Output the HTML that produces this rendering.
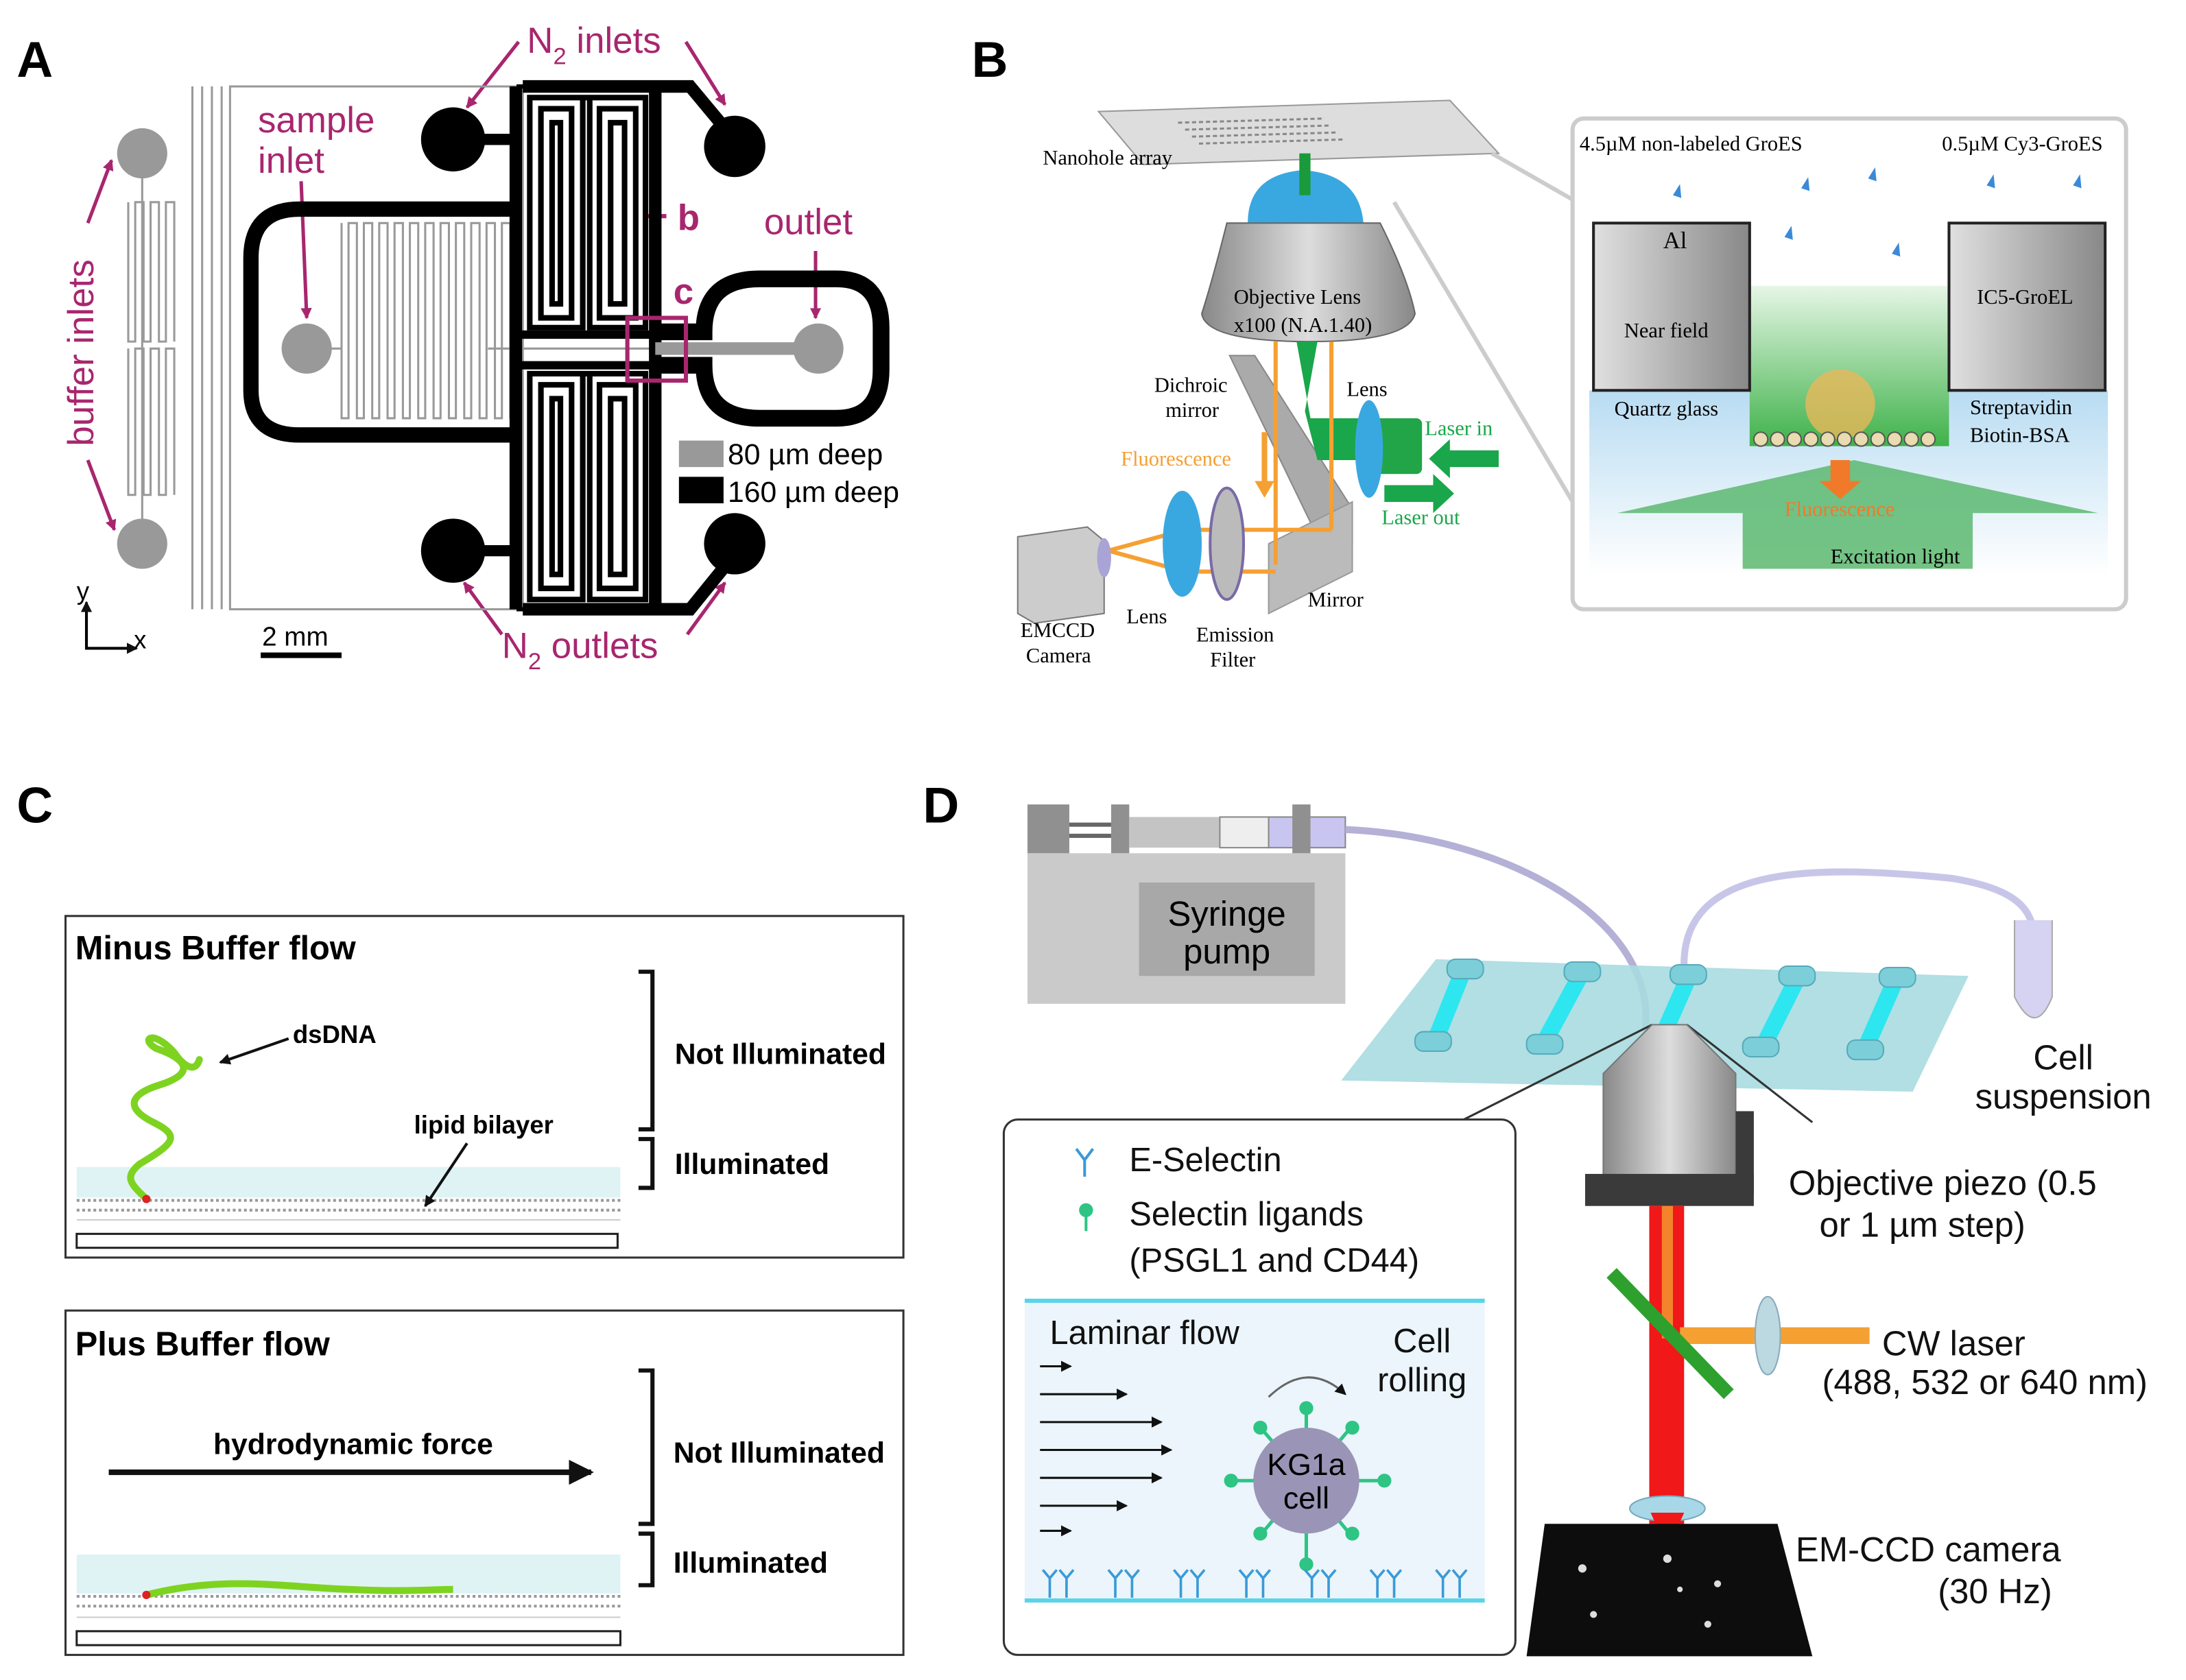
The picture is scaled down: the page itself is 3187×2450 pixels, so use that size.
<!DOCTYPE html>
<html><head><meta charset="utf-8"><style>
html,body{margin:0;padding:0;background:#fff;}
svg{display:block;}
text{font-family:"Liberation Sans",sans-serif;}
text.s,.s text{font-family:"Liberation Serif",serif;}
</style></head><body>
<svg width="3187" height="2450" viewBox="0 0 1568 1205" preserveAspectRatio="none" xmlns="http://www.w3.org/2000/svg">
<rect width="1568" height="1205" fill="#fff"/>
<defs>
<marker id="am" markerWidth="8" markerHeight="8" refX="7" refY="4" orient="auto" markerUnits="userSpaceOnUse"><path d="M0,0 L8,4 L0,8 Z" fill="#a8266f"/></marker>
<marker id="ab" markerWidth="8" markerHeight="8" refX="7" refY="4" orient="auto" markerUnits="userSpaceOnUse"><path d="M0,0 L8,4 L0,8 Z" fill="#111"/></marker>
<marker id="ab2" markerWidth="18" markerHeight="18" refX="16" refY="9" orient="auto" markerUnits="userSpaceOnUse"><path d="M0,0 L18,9 L0,18 Z" fill="#111"/></marker>
<linearGradient id="blue" x1="0" y1="0" x2="0" y2="1"><stop offset="0" stop-color="#b8dcf2"/><stop offset="1" stop-color="#fff"/></linearGradient>
<linearGradient id="grn" x1="0" y1="0" x2="0" y2="1"><stop offset="0" stop-color="#e6f6e6"/><stop offset="1" stop-color="#3fb24a"/></linearGradient>
<linearGradient id="alg" x1="0" y1="0" x2="1" y2="0"><stop offset="0" stop-color="#e0e0e0"/><stop offset="1" stop-color="#888"/></linearGradient>
<linearGradient id="obj" x1="0" y1="0" x2="1" y2="0"><stop offset="0" stop-color="#888"/><stop offset="0.5" stop-color="#ddd"/><stop offset="1" stop-color="#888"/></linearGradient>
</defs>

<!-- ========== PANEL A ========== -->
<text x="12" y="55" font-size="36" font-weight="bold">A</text>
<g fill="#a8266f" font-size="26">
<text x="378" y="38">N<tspan font-size="17" dy="8">2</tspan><tspan dy="-8"> inlets</tspan></text>
<text x="360" y="472">N<tspan font-size="17" dy="8">2</tspan><tspan dy="-8"> outlets</tspan></text>
<text x="185" y="95">sample</text><text x="185" y="124">inlet</text>
<text x="548" y="168">outlet</text>
<text x="486" y="165" font-weight="bold">b</text>
<text x="483" y="218" font-weight="bold">c</text>
<text transform="translate(67,320) rotate(-90)">buffer inlets</text>
</g>
<g stroke="#a8266f" stroke-width="2.5" fill="none" marker-end="url(#am)">
<line x1="372" y1="30" x2="335" y2="77"/><line x1="492" y1="30" x2="520" y2="75"/>
<line x1="360" y1="455" x2="333" y2="418"/><line x1="493" y1="455" x2="520" y2="418"/>
<line x1="63" y1="160" x2="80" y2="115"/><line x1="63" y1="330" x2="82" y2="380"/>
<line x1="216" y1="130" x2="220" y2="228"/><line x1="585" y1="180" x2="585" y2="228"/>
</g>
<line x1="462" y1="155" x2="478" y2="155" stroke="#a8266f" stroke-width="3"/>
<g stroke="#999" stroke-width="1.5" fill="none">
<rect x="165" y="62" width="210" height="375"/>
<line x1="138" y1="62" x2="138" y2="437"/><line x1="145" y1="62" x2="145" y2="437"/><line x1="152" y1="62" x2="152" y2="437"/><line x1="159" y1="62" x2="159" y2="437"/>
<path d="M92,145 v100 h5 v-100 h6 v100 h5 v-100 h6 v100 h5 v-100 h6 v100"/>
<path d="M92,250 v105 h5 v-105 h6 v105 h5 v-105 h6 v105 h5 v-105 h6 v105"/>
<line x1="102" y1="127" x2="102" y2="373"/>
<path d="M245,160 v140 h5 v-140 h6 v140 h5 v-140 h6 v140 h5 v-140 h6 v140 h5 v-140 h6 v140 h5 v-140 h6 v140 h5 v-140 h6 v140 h5 v-140 h6 v140 h5 v-140 h6 v140 h5 v-140 h6 v140 h5 v-140 h6 v140 h5 v-140 h6 v140"/>
<line x1="237" y1="250" x2="245" y2="250"/>
<line x1="350" y1="250" x2="470" y2="250"/>
</g>
<g stroke="#000" fill="none">
<path d="M368,150 H215 Q180,150 180,185 V280 Q180,312 215,312 H368" stroke-width="11"/>
<path d="M375,62 H495 L525,98" stroke-width="9"/>
<path d="M375,437 H495 L525,400" stroke-width="9"/>
<path d="M345,100 H370" stroke-width="8"/><path d="M345,395 H370" stroke-width="8"/>
<rect x="372" y="62" width="100" height="375" stroke-width="3"/>
<line x1="370" y1="62" x2="370" y2="437" stroke-width="9"/>
<line x1="470" y1="62" x2="470" y2="437" stroke-width="9"/>
<path d="M372,240 H470 M372,262 H470" stroke-width="6"/>
<path d="M380,70 v165 h38 v-165 h5 v165 h40 v-165 z" stroke-width="4"/>
<path d="M388,78 v150 h22 v-150 z M430,78 v150 h26 v-150 z" stroke-width="4"/>
<path d="M396,88 v130 h6 v-130 z M438,88 v130 h10 v-130 z" stroke-width="4"/>
<path d="M380,268 v162 h38 v-162 h5 v162 h40 v-162 z" stroke-width="4"/>
<path d="M388,276 v146 h22 v-146 z M430,276 v146 h26 v-146 z" stroke-width="4"/>
<path d="M396,286 v126 h6 v-126 z M438,286 v126 h10 v-126 z" stroke-width="4"/>
<path d="M470,238 H505 Q505,200 545,200 H600 Q632,200 632,235 V265 Q632,300 600,300 H545 Q505,300 505,262 H470" stroke-width="12"/>
</g>
<line x1="470" y1="250" x2="585" y2="250" stroke="#999" stroke-width="9"/>
<g fill="#000"><circle cx="325" cy="100" r="23"/><circle cx="527" cy="105" r="22"/><circle cx="325" cy="395" r="23"/><circle cx="527" cy="390" r="22"/></g>
<g fill="#999"><circle cx="102" cy="110" r="18"/><circle cx="102" cy="390" r="18"/><circle cx="220" cy="250" r="18"/><circle cx="587" cy="250" r="18"/></g>
<rect x="450" y="228" width="42" height="45" fill="none" stroke="#a8266f" stroke-width="3"/>
<rect x="487" y="316" width="32" height="19" fill="#999"/><rect x="487" y="342" width="32" height="19" fill="#000"/>
<text x="522" y="333" font-size="21">80 µm deep</text><text x="522" y="360" font-size="21">160 µm deep</text>
<g stroke="#000" stroke-width="2" fill="none"><path d="M62,440 V465 H98" marker-end="url(#ab)"/><line x1="62" y1="465" x2="62" y2="432" marker-end="url(#ab)"/></g>
<text x="55" y="430" font-size="18">y</text><text x="96" y="465" font-size="18">x</text>
<text x="188" y="463" font-size="19">2 mm</text><rect x="187" y="468" width="58" height="4" fill="#000"/>

<!-- ========== PANEL B ========== -->
<text x="697" y="55" font-size="36" font-weight="bold">B</text>
<polygon points="788,80 1040,72 1075,110 820,118" fill="#ddd" stroke="#999"/>
<g fill="none" stroke="#888" stroke-width="1.5" stroke-dasharray="3,2">
<line x1="845" y1="88" x2="950" y2="85"/><line x1="850" y1="93" x2="955" y2="90"/><line x1="855" y1="98" x2="960" y2="95"/><line x1="860" y1="103" x2="965" y2="100"/>
</g>
<line x1="1070" y1="110" x2="1140" y2="150" stroke="#ccc" stroke-width="3"/>
<line x1="1000" y1="145" x2="1140" y2="380" stroke="#ccc" stroke-width="3"/>
<path d="M895,160 Q895,125 935,122 Q975,125 978,160 Z" fill="#3aa8e0"/>
<path d="M880,160 H990 Q1010,200 1015,225 Q1010,245 940,245 Q865,245 862,225 Q870,200 880,160 Z" fill="url(#obj)" stroke="#666"/>
<rect x="932" y="110" width="8" height="30" fill="#1a9a3a"/>
<g class="s" font-size="15">
<text x="885" y="218">Objective Lens</text><text x="885" y="238">x100 (N.A.1.40)</text>
<text x="748" y="118">Nanohole array</text>
</g>
<polygon points="882,255 900,255 970,365 970,390 945,385" fill="#aaa" stroke="#888"/>
<polygon points="910,390 970,360 970,410 910,440" fill="#bbb" stroke="#999"/>
<path d="M930,245 L945,245 L936,295 L945,330 L990,330 L990,300 L940,300 Z" fill="#1aa64a"/>
<rect x="980" y="300" width="40" height="40" fill="#21a548" rx="4"/>
<ellipse cx="982" cy="322" rx="10" ry="35" fill="#3aa8e0"/>
<g stroke="#f5a032" stroke-width="3" fill="none">
<line x1="915" y1="245" x2="915" y2="405"/><line x1="955" y1="245" x2="955" y2="380"/>
<line x1="850" y1="380" x2="955" y2="380"/><line x1="850" y1="410" x2="915" y2="410"/>
<path d="M795,395 L850,380 M795,395 L850,410"/>
<line x1="907" y1="310" x2="907" y2="345" stroke-width="4"/>
</g>
<polygon points="900,345 914,345 907,357" fill="#f5a032"/>
<g fill="#1aa64a"><polygon points="1075,323 1040,323 1040,315 1025,329 1040,343 1040,335 1075,335"/><polygon points="993,348 1028,348 1028,340 1043,354 1028,368 1028,360 993,360"/></g>
<polygon points="730,385 780,378 792,388 792,440 742,447 730,440" fill="#ccc" stroke="#777"/>
<ellipse cx="792" cy="400" rx="5" ry="14" fill="#a9a3d6"/>
<ellipse cx="848" cy="390" rx="14" ry="38" fill="#3aa8e0"/>
<ellipse cx="880" cy="390" rx="12" ry="40" fill="#bbb" stroke="#7a6aa6" stroke-width="2"/>
<g class="s" font-size="15">
<text x="828" y="281">Dichroic</text><text x="836" y="299">mirror</text><text x="966" y="284">Lens</text>
<text x="1022" y="312" fill="#1aa64a">Laser in</text><text x="991" y="376" fill="#1aa64a">Laser out</text>
<text x="804" y="334" fill="#f5a032">Fluorescence</text>
<text x="732" y="457">EMCCD</text><text x="736" y="475">Camera</text><text x="808" y="447">Lens</text>
<text x="858" y="460">Emission</text><text x="868" y="478">Filter</text><text x="938" y="435">Mirror</text>
</g>
<rect x="1128" y="85" width="397" height="352" rx="8" fill="#fff" stroke="#ccc" stroke-width="3"/>
<rect x="1140" y="280" width="372" height="132" fill="url(#blue)"/>
<rect x="1255" y="205" width="143" height="115" fill="url(#grn)"/>
<rect x="1143" y="160" width="112" height="120" fill="url(#alg)" stroke="#222" stroke-width="2"/>
<rect x="1398" y="160" width="112" height="120" fill="url(#alg)" stroke="#222" stroke-width="2"/>
<polygon points="1160,368 1330,330 1505,368 1415,368 1415,408 1250,408 1250,368" fill="#5cb870" opacity="0.85"/>
<circle cx="1320" cy="290" r="25" fill="#e8b85a" opacity="0.8"/>
<g fill="#e8dcb0" stroke="#555" stroke-width="1"><circle cx="1263" cy="315" r="5"/><circle cx="1275" cy="315" r="5"/><circle cx="1287" cy="315" r="5"/><circle cx="1299" cy="315" r="5"/><circle cx="1311" cy="315" r="5"/><circle cx="1323" cy="315" r="5"/><circle cx="1335" cy="315" r="5"/><circle cx="1347" cy="315" r="5"/><circle cx="1359" cy="315" r="5"/><circle cx="1371" cy="315" r="5"/><circle cx="1383" cy="315" r="5"/></g>
<rect x="1313" y="330" width="14" height="18" fill="#f07a2a"/><polygon points="1305,345 1335,345 1320,358" fill="#f07a2a"/>
<g fill="#3a8ad8"><path d="M1200,140 l5,-8 l1,10 z"/><path d="M1292,135 l5,-8 l1,10 z"/><path d="M1340,128 l5,-8 l1,10 z"/><path d="M1425,133 l5,-8 l1,10 z"/><path d="M1487,133 l5,-8 l1,10 z"/><path d="M1280,170 l5,-8 l1,10 z"/><path d="M1357,182 l5,-8 l1,10 z"/></g>
<g class="s" font-size="15">
<text x="1133" y="108">4.5µM  non-labeled GroES</text><text x="1393" y="108">0.5µM  Cy3-GroES</text>
<text x="1193" y="178" font-size="17">Al</text><text x="1165" y="242">Near field</text><text x="1418" y="218">IC5-GroEL</text>
<text x="1158" y="298">Quartz glass</text><text x="1413" y="297">Streptavidin</text><text x="1413" y="317">Biotin-BSA</text>
<text x="1280" y="370" fill="#f07a2a">Fluorescence</text><text x="1313" y="404">Excitation light</text>
</g>

<!-- ========== PANEL C ========== -->
<text x="12" y="590" font-size="36" font-weight="bold">C</text>
<rect x="47" y="657" width="601" height="245" fill="#fff" stroke="#333" stroke-width="1.5"/>
<rect x="47" y="940" width="601" height="247" fill="#fff" stroke="#333" stroke-width="1.5"/>
<text x="54" y="688" font-size="24" font-weight="bold">Minus  Buffer flow</text>
<text x="54" y="972" font-size="24" font-weight="bold">Plus  Buffer flow</text>
<rect x="55" y="837" width="390" height="22" fill="#dff3f5"/>
<rect x="55" y="1115" width="390" height="28" fill="#dff3f5"/>
<g stroke="#999" stroke-width="2" stroke-dasharray="2,2"><line x1="55" y1="861" x2="445" y2="861"/><line x1="55" y1="868" x2="445" y2="868"/><line x1="55" y1="1145" x2="445" y2="1145"/><line x1="55" y1="1152" x2="445" y2="1152"/></g>
<g stroke="#ccc" stroke-width="1"><line x1="55" y1="875" x2="445" y2="875"/><line x1="55" y1="1160" x2="445" y2="1160"/></g>
<rect x="55" y="885" width="388" height="10" fill="#fff" stroke="#222" stroke-width="1.5"/>
<rect x="55" y="1170" width="390" height="10" fill="#fff" stroke="#222" stroke-width="1.5"/>
<path d="M105,860 C95,850 88,845 100,835 C125,820 130,815 110,805 C90,795 92,785 115,778 C140,770 135,760 112,752 C100,745 110,738 125,755 C132,765 140,770 143,760" stroke="#7ed321" stroke-width="5" fill="none" stroke-linecap="round"/>
<circle cx="105" cy="860" r="3" fill="#d22"/>
<path d="M105,1144 C160,1130 200,1138 250,1140 C290,1142 310,1140 325,1140" stroke="#7ed321" stroke-width="5" fill="none"/>
<circle cx="105" cy="1144" r="3" fill="#d22"/>
<g font-size="18" font-weight="bold"><text x="210" y="748">dsDNA</text><text x="297" y="813">lipid bilayer</text></g>
<g stroke="#111" stroke-width="2"><line x1="207" y1="745" x2="158" y2="762" marker-end="url(#ab)"/><line x1="335" y1="820" x2="305" y2="865" marker-end="url(#ab)"/></g>
<text x="153" y="1043" font-size="21" font-weight="bold">hydrodynamic force</text>
<line x1="78" y1="1056" x2="424" y2="1056" stroke="#111" stroke-width="4" marker-end="url(#ab2)"/>
<g stroke="#111" stroke-width="3" fill="none">
<path d="M458,697 H468 V810 H458"/><path d="M458,817 H468 V852 H458"/>
<path d="M458,983 H468 V1093 H458"/><path d="M458,1100 H468 V1137 H458"/>
</g>
<g font-size="21" font-weight="bold"><text x="484" y="763">Not Illuminated</text><text x="484" y="842">Illuminated</text><text x="483" y="1049">Not Illuminated</text><text x="483" y="1128">Illuminated</text></g>

<!-- ========== PANEL D ========== -->
<text x="662" y="590" font-size="36" font-weight="bold">D</text>
<rect x="737" y="612" width="228" height="108" fill="#cacaca"/>
<rect x="817" y="633" width="126" height="67" fill="#a8a8a8"/>
<text x="880" y="664" font-size="25" text-anchor="middle">Syringe</text><text x="880" y="691" font-size="25" text-anchor="middle">pump</text>
<rect x="737" y="577" width="30" height="35" fill="#909090"/><rect x="797" y="577" width="13" height="35" fill="#909090"/>
<rect x="767" y="590" width="30" height="3" fill="#666"/><rect x="767" y="598" width="30" height="3" fill="#666"/>
<rect x="810" y="586" width="65" height="22" fill="#c4c4c4"/><rect x="875" y="586" width="35" height="22" fill="#eee" stroke="#888"/>
<rect x="910" y="586" width="55" height="22" fill="#c8c6f0" stroke="#888"/><rect x="927" y="577" width="13" height="35" fill="#909090"/>
<path d="M965,595 C1080,600 1190,660 1180,740" stroke="#b4b0d6" stroke-width="5" fill="none"/>
<path d="M1208,695 C1205,620 1300,620 1400,630 C1460,640 1460,660 1460,690" stroke="#c8c6e8" stroke-width="5" fill="none"/>
<path d="M1445,660 V715 Q1460,745 1472,715 V660" fill="#d5d2f2" stroke="#aaa"/>
<polygon points="1030,688 1412,700 1372,783 962,775" fill="#a8dbe0" opacity="0.9"/>
<g stroke="#2ee6f0" stroke-width="12"><line x1="1050" y1="695" x2="1030" y2="745"/><line x1="1135" y1="697" x2="1108" y2="747"/><line x1="1212" y1="699" x2="1190" y2="749"/><line x1="1290" y1="700" x2="1265" y2="750"/><line x1="1360" y1="702" x2="1338" y2="752"/></g>
<g fill="#7ccfd8" stroke="#5ab"><rect x="1038" y="688" width="26" height="14" rx="6"/><rect x="1122" y="690" width="26" height="14" rx="6"/><rect x="1198" y="692" width="26" height="14" rx="6"/><rect x="1276" y="693" width="26" height="14" rx="6"/><rect x="1348" y="694" width="26" height="14" rx="6"/>
<rect x="1015" y="740" width="26" height="14" rx="6"/><rect x="1095" y="742" width="26" height="14" rx="6"/><rect x="1250" y="744" width="26" height="14" rx="6"/><rect x="1325" y="746" width="26" height="14" rx="6"/></g>
<line x1="1050" y1="803" x2="1185" y2="735" stroke="#333" stroke-width="1.5"/>
<line x1="1210" y1="735" x2="1300" y2="805" stroke="#333" stroke-width="1.5"/>
<polygon points="1185,735 1210,735 1245,770 1245,850 1150,850 1150,770" fill="url(#obj)" stroke="#777"/>
<rect x="1137" y="842" width="121" height="23" fill="#3a3a3a"/><rect x="1245" y="797" width="13" height="60" fill="#3a3a3a"/>
<rect x="1183" y="865" width="25" height="228" fill="#f01818"/>
<rect x="1192" y="865" width="8" height="95" fill="#f5a032" opacity="0.8"/>
<rect x="1205" y="952" width="136" height="12" fill="#f5a032"/>
<ellipse cx="1268" cy="958" rx="9" ry="28" fill="#bcd8e0" stroke="#8ab"/>
<line x1="1156" y1="913" x2="1240" y2="1000" stroke="#2ea02e" stroke-width="10"/>
<ellipse cx="1196" cy="1082" rx="27" ry="9" fill="#a8d8e8" stroke="#7ab"/>
<polygon points="1184,1085 1208,1085 1196,1112" fill="#f01818"/>
<polygon points="1108,1093 1275,1093 1300,1188 1095,1188" fill="#0d0d0d"/>
<g fill="#ddd"><circle cx="1135" cy="1125" r="3"/><circle cx="1196" cy="1118" r="3"/><circle cx="1232" cy="1136" r="2.5"/><circle cx="1205" cy="1140" r="2"/><circle cx="1143" cy="1158" r="2.5"/><circle cx="1225" cy="1165" r="2.5"/></g>
<g font-size="25" fill="#111">
<text x="1480" y="767" text-anchor="middle">Cell</text><text x="1480" y="795" text-anchor="middle">suspension</text>
<text x="1283" y="857">Objective piezo (0.5</text><text x="1305" y="887">or 1 µm step)</text>
<text x="1350" y="972">CW laser</text><text x="1307" y="1000">(488, 532 or 640 nm)</text>
<text x="1288" y="1120">EM-CCD camera</text><text x="1390" y="1150">(30 Hz)</text>
</g>
<rect x="720" y="803" width="367" height="384" rx="10" fill="#fff" stroke="#333" stroke-width="1.5"/>
<rect x="735" y="933" width="330" height="215" fill="#ebf5fb"/>
<line x1="735" y1="933" x2="1065" y2="933" stroke="#5dd3ea" stroke-width="3"/>
<line x1="735" y1="1148" x2="1065" y2="1148" stroke="#5dd3ea" stroke-width="3"/>
<path d="M772,824 l6,8 l6,-8 M778,832 v12" stroke="#3a9ad8" stroke-width="2" fill="none"/>
<circle cx="779" cy="868" r="5" fill="#2ec484"/><line x1="779" y1="868" x2="779" y2="883" stroke="#2ec484" stroke-width="2"/>
<g font-size="24" fill="#111"><text x="810" y="840">E-Selectin</text><text x="810" y="879">Selectin ligands</text><text x="810" y="912">(PSGL1 and CD44)</text>
<text x="753" y="964">Laminar flow</text><text x="1020" y="970" text-anchor="middle">Cell</text><text x="1020" y="998" text-anchor="middle">rolling</text></g>
<g stroke="#111" stroke-width="1.5" marker-end="url(#ab)"><line x1="746" y1="980" x2="768" y2="980"/><line x1="746" y1="1000" x2="808" y2="1000"/><line x1="746" y1="1020" x2="833" y2="1020"/><line x1="746" y1="1040" x2="840" y2="1040"/><line x1="746" y1="1060" x2="833" y2="1060"/><line x1="746" y1="1080" x2="808" y2="1080"/><line x1="746" y1="1098" x2="768" y2="1098"/></g>
<path d="M910,1002 Q938,975 965,1000" stroke="#666" stroke-width="1.5" fill="none" marker-end="url(#ab)"/>
<g stroke="#2ec484" stroke-width="2.5"><line x1="937" y1="1062" x2="937" y2="1010"/><line x1="937" y1="1062" x2="937" y2="1122"/><line x1="937" y1="1062" x2="885" y2="1062"/><line x1="937" y1="1062" x2="992" y2="1062"/><line x1="937" y1="1062" x2="905" y2="1025"/><line x1="937" y1="1062" x2="968" y2="1025"/><line x1="937" y1="1062" x2="905" y2="1100"/><line x1="937" y1="1062" x2="968" y2="1100"/></g>
<g fill="#2ec484"><circle cx="937" cy="1010" r="5"/><circle cx="937" cy="1122" r="5"/><circle cx="883" cy="1062" r="5"/><circle cx="993" cy="1062" r="5"/><circle cx="904" cy="1024" r="5"/><circle cx="970" cy="1024" r="5"/><circle cx="904" cy="1100" r="5"/><circle cx="970" cy="1100" r="5"/></g>
<circle cx="937" cy="1062" r="38" fill="#9a95b6"/>
<text x="937" y="1058" font-size="22" text-anchor="middle">KG1a</text><text x="937" y="1082" font-size="22" text-anchor="middle">cell</text>
<g stroke="#3a9ad8" stroke-width="1.8" fill="none">
<path d="M748,1126 l5,6 l5,-6 M753,1132 v14 M760,1126 l5,6 l5,-6 M765,1132 v14"/>
<path d="M795,1126 l5,6 l5,-6 M800,1132 v14 M807,1126 l5,6 l5,-6 M812,1132 v14"/>
<path d="M842,1126 l5,6 l5,-6 M847,1132 v14 M854,1126 l5,6 l5,-6 M859,1132 v14"/>
<path d="M889,1126 l5,6 l5,-6 M894,1132 v14 M901,1126 l5,6 l5,-6 M906,1132 v14"/>
<path d="M936,1126 l5,6 l5,-6 M941,1132 v14 M948,1126 l5,6 l5,-6 M953,1132 v14"/>
<path d="M983,1126 l5,6 l5,-6 M988,1132 v14 M995,1126 l5,6 l5,-6 M1000,1132 v14"/>
<path d="M1030,1126 l5,6 l5,-6 M1035,1132 v14 M1042,1126 l5,6 l5,-6 M1047,1132 v14"/>
</g>
</svg>
</body></html>
